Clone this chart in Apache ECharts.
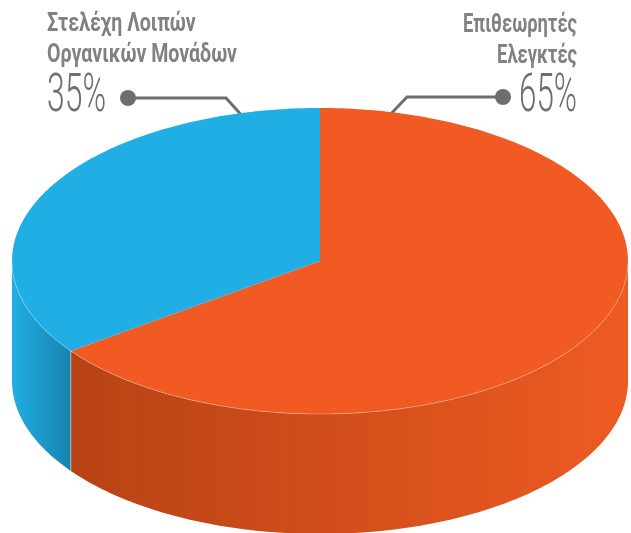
<!DOCTYPE html>
<html>
<head>
<meta charset="utf-8">
<script src="https://cdn.jsdelivr.net/npm/echarts@6/dist/echarts.min.js"></script>
<style>
  html, body { margin: 0; padding: 0; background: #fff; }
  #chart { width: 631px; height: 533px; }
</style>
</head>
<body>
<div id="chart"></div>
<script>
// ==== DATA ====
var names = ["Επιθεωρητές\nΕλεγκτές", "Στελέχη Λοιπών\nΟργανικών Μονάδων"];
var values = [65, 35];

// colours (top face, side gradient left -> right)
var topColors = ["#f15a22", "#20aee4"];
var sideColors = [["#b74214", "#ee5b22"], ["#22aee3", "#1683ae"]];

// layout of the drum
var CX = 320, CY = 261, RX = 308, RY = 153, DEPTH = 120, START = 90;

var total = values.reduce(function (a, b) { return a + b; }, 0);
var starts = [];
values.reduce(function (acc, v, i) {
  starts[i] = acc;
  return acc + v;
}, 0);

function ellipsePt(deg, dy) {
  var r = deg * Math.PI / 180;
  return [CX + RX * Math.cos(r), CY - RY * Math.sin(r) + (dy || 0)];
}

function arc(a, b, dy) {
  var pts = [];
  var n = Math.max(2, Math.ceil(Math.abs(b - a)));
  for (var k = 0; k <= n; k++) {
    pts.push(ellipsePt(a + (b - a) * k / n, dy));
  }
  return pts;
}

function renderSlice(params, api) {
  var i = params.dataIndex;
  var a0 = START - starts[i] / total * 360;
  var a1 = a0 - api.value(0) / total * 360;
  var children = [];

  // front wall, only the part facing us
  [0, -360].forEach(function (off) {
    var lo = Math.max(a1, -180 + off);
    var hi = Math.min(a0, off);
    if (hi > lo) {
      children.push({
        type: "polygon",
        z2: 1,
        shape: { points: arc(hi, lo, 0).concat(arc(lo, hi, DEPTH)) },
        style: {
          fill: new echarts.graphic.LinearGradient(0, 0, 1, 0, [
            { offset: 0, color: sideColors[i][0] },
            { offset: 1, color: sideColors[i][1] },
          ]),
        },
      });
      children.push({
        type: "polyline",
        z2: 3,
        shape: { points: arc(hi, lo, 0) },
        style: { stroke: "rgba(255,255,255,0.35)", lineWidth: 0.8, fill: null },
      });
    }
  });

  // seam between walls
  var s = ((a0 % 360) + 360) % 360;
  if (s > 180 && s < 360) {
    var p = ellipsePt(a0, 0);
    children.push({
      type: "line",
      z2: 3,
      shape: { x1: p[0], y1: p[1], x2: p[0], y2: p[1] + DEPTH },
      style: { stroke: "rgba(255,255,255,0.45)", lineWidth: 1 },
    });
  }

  // top face
  children.push({
    type: "polygon",
    z2: 2,
    shape: { points: [[CX, CY]].concat(arc(a0, a1, 0)) },
    style: { fill: topColors[i] },
  });

  return { type: "group", children: children };
}

function pct(i) {
  return Math.round(values[i] / total * 100) + "%";
}

// squeeze text to look like a condensed face
var measureCtx = document.createElement("canvas").getContext("2d");
function fit(text, font, width) {
  measureCtx.font = font;
  var w = Math.max.apply(null, text.split("\n").map(function (t) {
    return measureCtx.measureText(t).width;
  }));
  return width / w;
}

var labelFont = "bold 26px Roboto, sans-serif";
var pctFont = "300 54px Roboto, sans-serif";
var gray = "#6d6e71";
var labelGray = "#808184";

var chart = echarts.init(document.getElementById("chart"), null, { renderer: "canvas" });

chart.setOption({
  animation: false,
  backgroundColor: "#fff",
  series: [
    {
      type: "custom",
      coordinateSystem: "none",
      silent: true,
      renderItem: renderSlice,
      data: values.map(function (v, i) {
        return { name: names[i], value: [v] };
      }),
    },
  ],
  graphic: [
    // left label
    {
      type: "text", x: 47, y: 40, scaleX: fit(names[1], labelFont, 190),
      style: { text: names[1], font: labelFont, fill: labelGray, align: "left", verticalAlign: "middle", lineHeight: 31 },
    },
    {
      type: "text", x: 47, y: 97, scaleX: fit(pct(1), pctFont, 59),
      style: { text: pct(1), font: pctFont, fill: gray, align: "left", verticalAlign: "middle" },
    },
    {
      type: "polyline",
      shape: { points: [[128, 98], [226, 98], [245, 119]] },
      style: { stroke: gray, lineWidth: 3, fill: null },
    },
    { type: "circle", shape: { cx: 128, cy: 98, r: 8 }, style: { fill: gray } },
    // right label
    {
      type: "text", x: 577, y: 41, scaleX: fit(names[0], labelFont, 114),
      style: { text: names[0], font: labelFont, fill: labelGray, align: "right", verticalAlign: "middle", lineHeight: 31 },
    },
    {
      type: "text", x: 577, y: 97, scaleX: fit(pct(0), pctFont, 58),
      style: { text: pct(0), font: pctFont, fill: gray, align: "right", verticalAlign: "middle" },
    },
    {
      type: "polyline",
      shape: { points: [[503, 97], [407, 97], [386, 119]] },
      style: { stroke: gray, lineWidth: 3, fill: null },
    },
    { type: "circle", shape: { cx: 503, cy: 97, r: 8 }, style: { fill: gray } },
  ],
});
</script>
</body>
</html>
